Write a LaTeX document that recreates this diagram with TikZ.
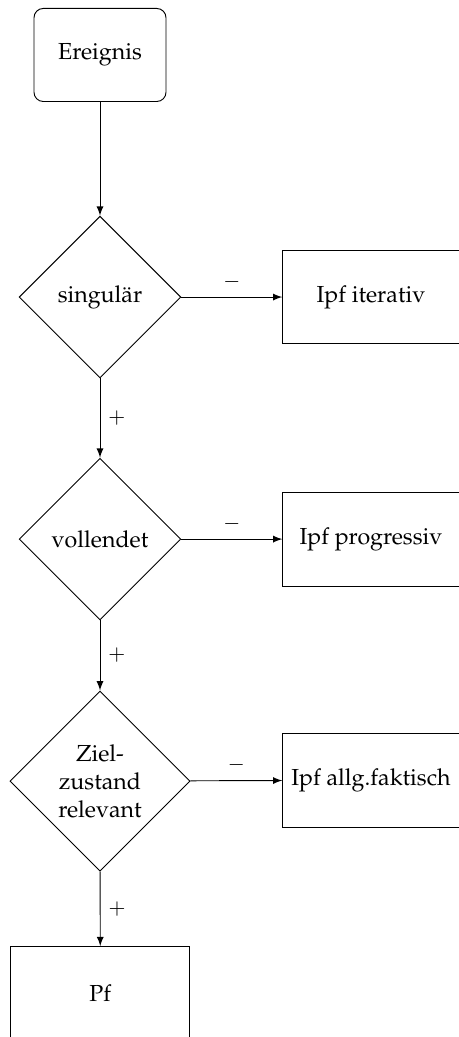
\documentclass[tikz,border=0pt]{standalone}
\usepackage[T1]{fontenc}
\usepackage{mathpazo}
\usetikzlibrary{shapes.geometric}

\begin{document}
\begin{tikzpicture}[every node/.style={font=\normalsize},
    start/.style={draw, rounded corners, minimum width=2cm, minimum height=1.41cm},
    frage/.style={draw, diamond, aspect=1, align=center, minimum size=2.45cm, inner sep=1pt},
    ergebnis/.style={draw, minimum width=2.67cm, minimum height=1.42cm},
    zeichen/.style={font=\small},
    pfeil/.style={-latex}]
      % page frame
      \useasboundingbox (0,0) rectangle (6.94,-15.71);
      % start box
      \node[start] (ereignis) at (1.515,-0.833) {Ereignis};
      % decisions down the left column
      \node[frage] (singular) at (1.515,-4.5) {singul\"ar};
      \node[frage] (vollendet) at (1.515,-8.167) {vollendet};
      \node[frage, minimum size=2.73cm] (ziel) at (1.515,-11.833) {Ziel-\\zustand\\relevant};
      % results on the right
      \node[ergebnis] (iterativ) at (5.62,-4.5) {Ipf iterativ};
      \node[ergebnis] (progressiv) at (5.62,-8.167) {Ipf progressiv};
      \node[ergebnis] (faktisch) at (5.62,-11.82) {Ipf allg.faktisch};
      % result at the bottom
      \node[ergebnis, minimum width=2.71cm] (pf) at (1.52,-15.05) {Pf};
      % arrows down (+)
      \draw[pfeil] (ereignis) -- (singular);
      \draw[pfeil] (singular) -- node[zeichen, right] {$+$} (vollendet);
      \draw[pfeil] (vollendet) -- node[zeichen, right] {$+$} (ziel);
      \draw[pfeil] (ziel) -- node[zeichen, right] {$+$} (pf);
      % arrows right (-)
      \draw[pfeil] (singular) -- node[zeichen, above] {$-$} (iterativ);
      \draw[pfeil] (vollendet) -- node[zeichen, above] {$-$} (progressiv);
      \draw[pfeil] (ziel) -- node[zeichen, above] {$-$} (faktisch);
    \end{tikzpicture}
\end{document}
